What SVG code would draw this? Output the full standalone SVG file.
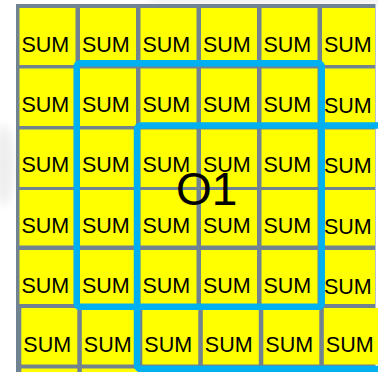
<svg xmlns="http://www.w3.org/2000/svg" width="378" height="372" viewBox="0 0 378 372">
  <defs>
    <filter id="blur" x="-50%" y="-50%" width="200%" height="200%">
      <feGaussianBlur stdDeviation="4"/>
    </filter>
    <style>
      .cell { fill: #ffff00; }
      .lbl { font-family: "Liberation Sans", Arial, sans-serif; font-size: 21.5px; fill: #000000; }
      .win { fill: none; stroke: #00b0f0; stroke-width: 6.5; }
      .title { font-family: "Liberation Sans", Arial, sans-serif; font-size: 46px; fill: #000000; }
    </style>
  </defs>
  <rect x="0" y="0" width="378" height="372" fill="#ffffff"/>
  <!-- faint background artifacts -->
  <g filter="url(#blur)" opacity="0.5">
    <rect x="150" y="-6" width="240" height="9" fill="#dddddd"/>
    <ellipse cx="4" cy="165" rx="10" ry="40" fill="#dddddd"/>
  </g>
  <!-- grid backdrop -->
  <rect x="16" y="4" width="359.5" height="368" fill="#718291"/>

  <g id="row1">
    <g id="c11"><rect class="cell" x="19.5" y="8" width="56" height="57"/><text class="lbl" x="21.5" y="52.3">SUM</text></g>
    <g id="c12"><rect class="cell" x="80" y="8" width="56" height="57"/><text class="lbl" x="82" y="52.3">SUM</text></g>
    <g id="c13"><rect class="cell" x="140.5" y="8" width="56" height="57"/><text class="lbl" x="142.5" y="52.3">SUM</text></g>
    <g id="c14"><rect class="cell" x="201" y="8" width="56" height="57"/><text class="lbl" x="203" y="52.3">SUM</text></g>
    <g id="c15"><rect class="cell" x="261.5" y="8" width="56" height="57"/><text class="lbl" x="263.5" y="52.3">SUM</text></g>
    <g id="c16"><rect class="cell" x="322" y="8" width="53" height="57"/><text class="lbl" x="324" y="52.3">SUM</text></g>
  </g>
  <g id="row2">
    <g id="c21"><rect class="cell" x="19.5" y="68.5" width="56" height="57.5"/><text class="lbl" x="21.5" y="111.7">SUM</text></g>
    <g id="c22"><rect class="cell" x="80" y="68.5" width="56" height="57.5"/><text class="lbl" x="82" y="111.7">SUM</text></g>
    <g id="c23"><rect class="cell" x="140.5" y="68.5" width="56" height="57.5"/><text class="lbl" x="142.5" y="111.7">SUM</text></g>
    <g id="c24"><rect class="cell" x="201" y="68.5" width="56" height="57.5"/><text class="lbl" x="203" y="111.7">SUM</text></g>
    <g id="c25"><rect class="cell" x="261.5" y="68.5" width="56" height="57.5"/><text class="lbl" x="263.5" y="111.7">SUM</text></g>
    <g id="c26"><rect class="cell" x="322" y="68.5" width="53" height="57.5"/><text class="lbl" x="324" y="112.5">SUM</text></g>
  </g>
  <g id="row3">
    <g id="c31"><rect class="cell" x="19.5" y="129.5" width="56" height="57.5"/><text class="lbl" x="21.5" y="171.7">SUM</text></g>
    <g id="c32"><rect class="cell" x="80" y="129.5" width="56" height="57.5"/><text class="lbl" x="82" y="171.7">SUM</text></g>
    <g id="c33"><rect class="cell" x="140.5" y="129.5" width="56" height="57.5"/><text class="lbl" x="142.5" y="171.7">SUM</text></g>
    <g id="c34"><rect class="cell" x="201" y="129.5" width="56" height="57.5"/><text class="lbl" x="203" y="171.7">SUM</text></g>
    <g id="c35"><rect class="cell" x="261.5" y="129.5" width="56" height="57.5"/><text class="lbl" x="263.5" y="171.7">SUM</text></g>
    <g id="c36"><rect class="cell" x="322" y="129.5" width="53" height="57.5"/><text class="lbl" x="324" y="172.5">SUM</text></g>
  </g>
  <g id="row4">
    <g id="c41"><rect class="cell" x="19.5" y="190" width="56" height="55.5"/><text class="lbl" x="21.5" y="232.7">SUM</text></g>
    <g id="c42"><rect class="cell" x="80" y="190" width="56" height="55.5"/><text class="lbl" x="82" y="232.7">SUM</text></g>
    <g id="c43"><rect class="cell" x="140.5" y="190" width="56" height="55.5"/><text class="lbl" x="142.5" y="232.7">SUM</text></g>
    <g id="c44"><rect class="cell" x="201" y="190" width="56" height="55.5"/><text class="lbl" x="203" y="232.7">SUM</text></g>
    <g id="c45"><rect class="cell" x="261.5" y="190" width="56" height="55.5"/><text class="lbl" x="263.5" y="232.7">SUM</text></g>
    <g id="c46"><rect class="cell" x="322" y="190" width="53" height="55.5"/><text class="lbl" x="324" y="233.5">SUM</text></g>
  </g>
  <g id="row5">
    <g id="c51"><rect class="cell" x="19.5" y="250" width="56" height="54"/><text class="lbl" x="21.5" y="293.3">SUM</text></g>
    <g id="c52"><rect class="cell" x="80" y="250" width="56" height="54"/><text class="lbl" x="82" y="293.3">SUM</text></g>
    <g id="c53"><rect class="cell" x="140.5" y="250" width="56" height="54"/><text class="lbl" x="142.5" y="293.3">SUM</text></g>
    <g id="c54"><rect class="cell" x="201" y="250" width="56" height="54"/><text class="lbl" x="203" y="293.3">SUM</text></g>
    <g id="c55"><rect class="cell" x="261.5" y="250" width="56" height="54"/><text class="lbl" x="263.5" y="293.3">SUM</text></g>
    <g id="c56"><rect class="cell" x="322" y="250" width="53" height="54"/><text class="lbl" x="324" y="294">SUM</text></g>
  </g>
  <g id="row6">
    <g id="c61"><rect class="cell" x="21.3" y="308" width="56" height="56.5"/><text class="lbl" x="23.3" y="352">SUM</text></g>
    <g id="c62"><rect class="cell" x="81.8" y="308" width="56" height="56.5"/><text class="lbl" x="83.8" y="352">SUM</text></g>
    <g id="c63"><rect class="cell" x="142.3" y="308" width="56" height="56.5"/><text class="lbl" x="144.3" y="352">SUM</text></g>
    <g id="c64"><rect class="cell" x="202.8" y="308" width="56" height="56.5"/><text class="lbl" x="204.8" y="352">SUM</text></g>
    <g id="c65"><rect class="cell" x="263.3" y="308" width="56" height="56.5"/><text class="lbl" x="265.3" y="352">SUM</text></g>
    <g id="c66"><rect class="cell" x="323.8" y="308" width="54.2" height="56.5"/><text class="lbl" x="325.8" y="352">SUM</text></g>
  </g>
  <g id="row7">
    <rect class="cell" x="21.3" y="368.5" width="56" height="10"/>
    <rect class="cell" x="81.8" y="368.5" width="56" height="10"/>
    <rect class="cell" x="142.3" y="368.5" width="56" height="10"/>
    <rect class="cell" x="202.8" y="368.5" width="56" height="10"/>
    <rect class="cell" x="263.3" y="368.5" width="56" height="10"/>
    <rect class="cell" x="323.8" y="368.5" width="54.2" height="10"/>
  </g>

  <g id="windows">
    <rect class="win" x="76.7" y="63.3" width="245" height="243.5" rx="3"/>
    <rect class="win" x="137" y="125.5" width="245" height="243.5" rx="4"/>
  </g>

  <g id="label">
    <text class="title" x="176" y="204.5">O1</text>
  </g>
</svg>
